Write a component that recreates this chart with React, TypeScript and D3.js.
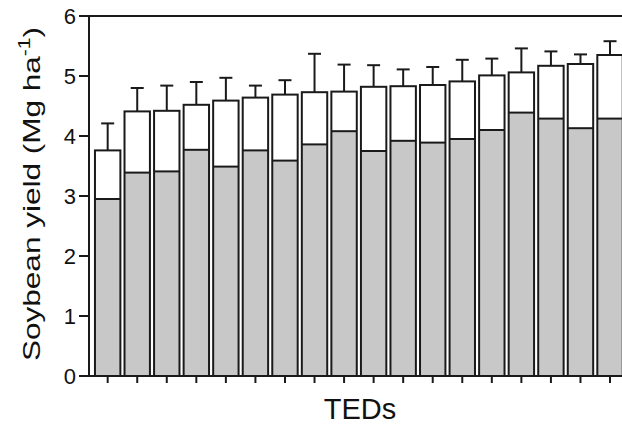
import * as d3 from "d3";

// Soybean yield per TED: lower (gray) part, total bar height, and error (SD) above the total
const teds = d3.range(1, 19).map((i) => `TED${i}`);
const lowerYield = [2.95, 3.39, 3.41, 3.77, 3.49, 3.76, 3.59, 3.86, 4.08, 3.75, 3.92, 3.89, 3.95, 4.10, 4.39, 4.29, 4.13, 4.29];
const totalYield = [3.76, 4.41, 4.42, 4.52, 4.59, 4.64, 4.69, 4.73, 4.74, 4.82, 4.83, 4.85, 4.91, 5.01, 5.06, 5.17, 5.20, 5.35];
const errorSd = [0.45, 0.39, 0.42, 0.38, 0.38, 0.20, 0.24, 0.64, 0.45, 0.36, 0.28, 0.30, 0.36, 0.28, 0.40, 0.24, 0.16, 0.23];
const yTicks = [0, 1, 2, 3, 4, 5, 6];

const width = 622;
const height = 425;
const axisX = 89;
const axisColor = "#1a1a1a";
const grayFill = "#c8c8c8";
const font = "Arial, 'Liberation Sans', Helvetica, sans-serif";

export default function App() {
    const x = d3.scaleBand<string>()
        .domain(teds)
        .range([92.9, 624.8])
        .paddingInner(0.14)
        .paddingOuter(0.07);

    const y = d3.scaleLinear().domain([0, 6]).range([376, 16]);

    const bw = x.bandwidth();
    const capHalf = 6.5;

    return (
        <svg
            width={width}
            height={height}
            style={{ position: "absolute", left: 0, top: 0, background: "#fff" }}
            fontFamily={font}
        >
            {/* bars */}
            {teds.map((t, i) => {
                const x0 = x(t) ?? 0;
                const cx = x0 + bw / 2;
                const yTotal = y(totalYield[i]);
                const yLower = y(lowerYield[i]);
                const yErr = y(totalYield[i] + errorSd[i]);
                return (
                    <g key={t}>
                        <line x1={cx} x2={cx} y1={yTotal} y2={yErr} stroke={axisColor} strokeWidth={2} />
                        <line x1={cx - capHalf} x2={cx + capHalf} y1={yErr} y2={yErr} stroke={axisColor} strokeWidth={2} />
                        <rect x={x0} y={yLower} width={bw} height={y(0) - yLower} fill={grayFill} />
                        <rect x={x0} y={yTotal} width={bw} height={yLower - yTotal} fill="#fff" />
                        <line x1={x0} x2={x0 + bw} y1={yLower} y2={yLower} stroke={axisColor} strokeWidth={2} />
                        <rect x={x0} y={yTotal} width={bw} height={y(0) - yTotal} fill="none" stroke={axisColor} strokeWidth={2} />
                    </g>
                );
            })}

            {/* frame */}
            <line x1={axisX} x2={width} y1={y(6)} y2={y(6)} stroke={axisColor} strokeWidth={2} />
            <line x1={axisX} x2={width} y1={y(0)} y2={y(0)} stroke={axisColor} strokeWidth={2} />
            <line x1={axisX} x2={axisX} y1={y(6) - 1} y2={y(0) + 1} stroke={axisColor} strokeWidth={2} />

            {/* y ticks */}
            {yTicks.map((v) => (
                <g key={v}>
                    <line x1={axisX - 10} x2={axisX} y1={y(v)} y2={y(v)} stroke={axisColor} strokeWidth={2} />
                    <text x={76} y={y(v)} dy="0.36em" textAnchor="end" fontSize={22} fill="#111">
                        {v}
                    </text>
                </g>
            ))}

            {/* x ticks */}
            {teds.map((t) => {
                const cx = (x(t) ?? 0) + bw / 2;
                return <line key={t} x1={cx} x2={cx} y1={y(0)} y2={y(0) + 7} stroke={axisColor} strokeWidth={2} />;
            })}

            {/* axis titles */}
            <text x={360} y={419} textAnchor="middle" fontSize={29} fill="#111">
                TEDs
            </text>
            <text
                transform={`translate(40, 194) rotate(-90)`}
                textAnchor="middle"
                fontSize={24}
                fill="#111"
                textLength={334}
                lengthAdjust="spacingAndGlyphs"
            >
                Soybean yield (Mg ha
                <tspan fontSize={16} dy={-10}>-1</tspan>
                <tspan dy={10}>)</tspan>
            </text>
        </svg>
    );
}
